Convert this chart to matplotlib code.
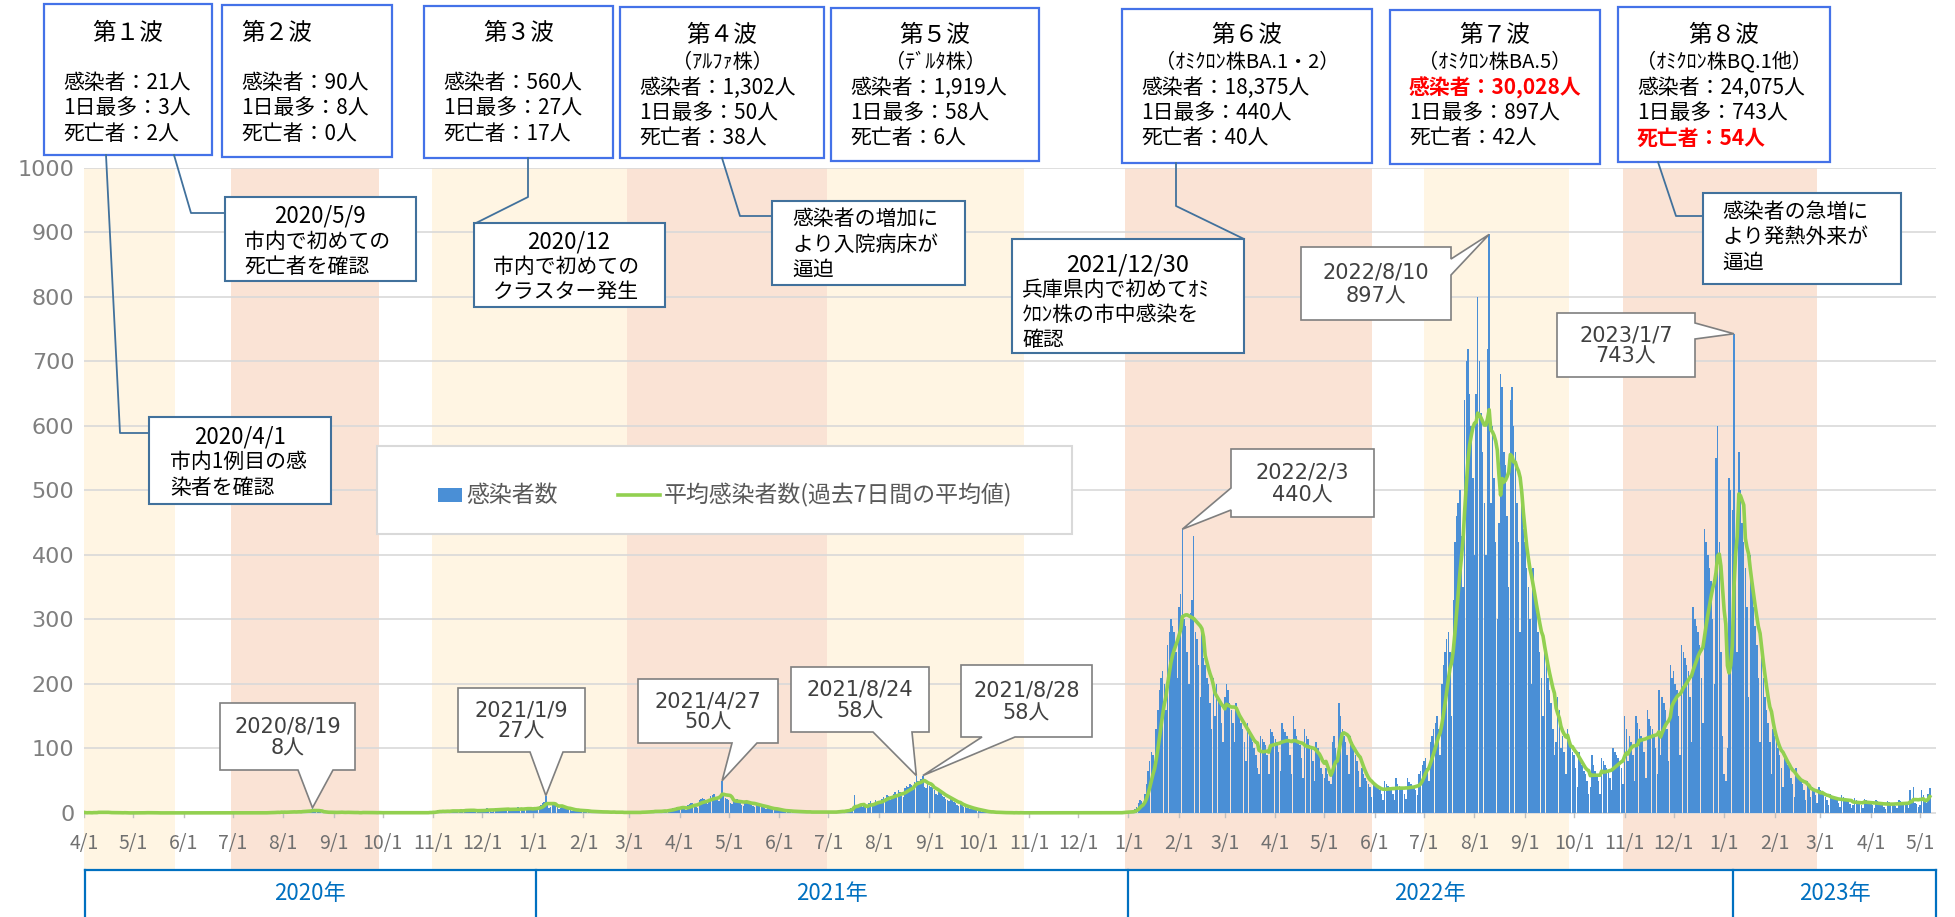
import matplotlib
matplotlib.use("Agg")
import matplotlib.pyplot as plt
import matplotlib.dates as mdates
from matplotlib.patches import Rectangle, Polygon
from matplotlib.lines import Line2D
import pandas as pd

plt.rcParams['font.family'] = ['Noto Sans CJK JP', 'DejaVu Sans']

# daily new cases, one list per month
apr20 = [1,0,0,1,0,0,2,1,0,3, 1,0,0,2,1,0,1,0,0,1, 0,1,0,0,0,1,0,0,0,0]
may20 = [0,0,1,0,0,1,0,0,1,1, 0,0,0,0,0,1,0,0,0,0, 0,0,0,0,0,0,0,0,0,0,0]
jun20 = [0,0,0,0,0,0,0,0,0,0, 0,0,0,0,0,0,0,0,0,0, 0,0,0,0,0,0,0,0,0,0]
jul20 = [0,0,0,0,0,0,0,0,0,0, 0,0,0,0,1,0,0,1,0,0, 0,1,1,0,2,0,1,1,2,0,3]
aug20 = [1,1,0,2,3,1,3,2,0,1, 3,2,4,4,2,1,3,5,8,4, 3,2,1,1,2,1,2,1,0,1,1]
sep20 = [1,0,2,1,1,2,0,0,1,2, 1,0,1,0,0,1,0,1,2,1, 0,0,1,0,1,1,0,0,1,0]
oct20 = [0,1,0,0,1,0,1,0,0,1, 0,0,1,0,0,1,0,1,0,0, 1,0,0,1,0,1,0,0,1,2,1]
nov20 = [2,1,3,4,3,2,3,1,2,4, 3,5,4,3,2,1,4,5,4,5, 6,3,2,4,5,4,3,4,3,2]
dec20 = [5,6,4,7,5,3,2,6,7,5, 8,6,4,3,7,8,6,5,7,4, 3,6,9,7,8,5,6,4,8,9,7]
jan21 = [5,8,6,7,11,13,15,17,27,12, 7,10,15,14,13,10,6,8,10,9, 7,6,6,4,3,5,5,4,5,3,3]
feb21 = [3,4,2,3,2,1,2,1,3,2, 2,1,1,2,1,2,1,1,2,1, 0,1,1,2,1,0,1,1]
mar21 = [1,0,1,2,1,0,1,1,2,1, 3,2,1,2,2,3,4,3,2,1, 3,4,5,3,6,5,4,7,8,10,9]
apr21 = [8,10,7,6,5,12,14,15,16,14, 10,8,20,22,24,21,18,14,17,26, 28,30,24,22,19,30,50,28,24,22]
may21 = [20,16,14,18,17,22,20,18,13,11, 18,20,17,15,13,11,9,13,15,12, 10,9,7,6,8,9,7,6,5,5,4]
jun21 = [4,5,3,3,2,4,3,2,3,2, 2,1,2,3,2,1,2,1,1,2, 1,2,1,1,2,1,1,2,1,1]
jul21 = [1,2,1,2,1,2,3,2,4,3, 2,5,4,6,8,10,28,9,7,12, 14,10,12,9,8,15,18,16,14,20,17]
aug21 = [14,18,22,25,24,28,26,20,22,30, 32,28,35,33,27,25,38,42,40,45, 44,36,48,58,50,46,52,58,40,38,45]
sep21 = [42,40,38,35,30,28,33,31,27,25, 22,20,18,24,20,17,15,13,11,14, 12,10,9,8,7,6,8,6,5,4]
oct21 = [4,3,2,3,2,1,2,1,1,2, 1,0,1,1,0,1,0,1,0,0, 1,0,0,1,0,0,1,0,0,0,1]
nov21 = [0,0,1,0,0,0,0,1,0,0, 0,0,0,1,0,0,0,0,0,1, 0,0,0,0,0,0,1,0,0,0]
dec21 = [0,0,0,1,0,0,0,0,1,0, 0,0,0,0,0,1,0,0,0,0, 1,0,0,1,0,1,0,1,2,1,3]
jan22 = [1,1,2,3,6,10,15,20,18,15, 30,45,65,80,95,90,75,130,160,190,
         210,220,200,160,260,280,300,290,280,250,210]
feb22 = [320,340,440,300,290,250,200,310,330,430, 280,270,230,180,280,240,230,210,200,170,
         130,210,150,200,180,170,140,110]
mar22 = [180,200,190,170,160,140,110,170,160,150, 140,130,110,80,140,130,120,110,100,90,
         70,60,120,115,110,105,90,60,130,125,120]
apr22 = [115,110,95,65,140,130,125,120,110,90, 60,150,130,120,110,105,85,55,130,120,
         115,105,100,80,50,110,100,95,70,60]
may22 = [55,70,60,50,45,110,120,100,80,170, 150,130,120,110,90,60,120,110,100,90,
         80,65,40,70,60,55,50,45,40,25,50]
jun22 = [45,40,38,35,30,20,50,45,42,40, 38,30,20,55,45,42,40,38,30,22,
         55,48,45,42,40,35,28,60,65,75]
jul22 = [80,85,70,50,110,120,130,140,150,130, 90,200,230,250,270,280,250,150,330,420,
         460,480,500,430,350,640,700,720,650,600,520]
aug22 = [400,650,800,700,620,560,480, 400,720,897,480,600,520,420, 300,450,680,660,560,540,460,
         350,640,660,600,560,480,420, 280,480,440]
sep22 = [420,380,350,300,200,380,340,310,280,250, 210,150,270,240,210,190,170,130,90,110,
         180,160,100,120,95,60,130,115,105,95]
oct22 = [90,70,40,95,85,75,65,60,50,30, 40,90,75,65,60,50,30,85,80,75,
         70,65,55,35,100,95,90,85,80,70,45]
nov22 = [150,130,80,120,110,90,50,150,140,130, 120,115,95,55,160,145,135,130,120,100,
         60,190,90,180,170,160,130,80,230,210]
dec22 = [220,200,190,150,90,260,250,240,230,220, 180,110,320,300,290,280,260,210,140,440,
         420,400,380,360,300,200,550,600,420,250,120]
jan23 = [60,50,100,520,500,470,743,420,250,560, 500,450,420,380,320,180,400,360,320,290,
         260,210,110,240,210,180,160,140,110,60,130]
feb23 = [120,110,100,90,70,40,95,85,75,70, 55,45,25,70,60,55,50,45,35,20,
         50,45,25,40,35,28,15,40]
mar23 = [35,30,28,25,20,12,30,27,25,22, 20,16,10,28,25,22,20,18,14,8,
         12,24,20,18,16,13,8,22,20,18,16]
apr23 = [15,12,7,20,18,16,15,13,10,6, 19,17,16,15,14,11,7,20,18,17,
         16,15,12,8,35,20,40,16,14,10]
may23 = [12,35,28,20,15,30,38]

months = [("2020-04", apr20), ("2020-05", may20), ("2020-06", jun20), ("2020-07", jul20),
          ("2020-08", aug20), ("2020-09", sep20), ("2020-10", oct20), ("2020-11", nov20),
          ("2020-12", dec20), ("2021-01", jan21), ("2021-02", feb21), ("2021-03", mar21),
          ("2021-04", apr21), ("2021-05", may21), ("2021-06", jun21), ("2021-07", jul21),
          ("2021-08", aug21), ("2021-09", sep21), ("2021-10", oct21), ("2021-11", nov21),
          ("2021-12", dec21), ("2022-01", jan22), ("2022-02", feb22), ("2022-03", mar22),
          ("2022-04", apr22), ("2022-05", may22), ("2022-06", jun22), ("2022-07", jul22),
          ("2022-08", aug22), ("2022-09", sep22), ("2022-10", oct22), ("2022-11", nov22),
          ("2022-12", dec22), ("2023-01", jan23), ("2023-02", feb23), ("2023-03", mar23),
          ("2023-04", apr23), ("2023-05", may23)]

# wave periods shown as background bands
band_start = ["2020-03-31", "2020-06-30", "2020-10-31", "2021-02-28",
              "2021-06-30", "2021-12-30", "2022-07-01", "2022-10-31"]
band_end = ["2020-05-27", "2020-09-29", "2021-02-28", "2021-06-30",
            "2021-10-29", "2022-05-30", "2022-09-28", "2023-02-27"]
band_kind = ["y", "p", "y", "p", "y", "p", "y", "p"]

# wave summary boxes
wave_title = ["第１波", "第２波", "第３波", "第４波", "第５波", "第６波", "第７波", "第８波"]
wave_strain = ["", "", "", "（ｱﾙﾌｧ株）", "（ﾃﾞﾙﾀ株）", "（ｵﾐｸﾛﾝ株BA.1・2）",
               "（ｵﾐｸﾛﾝ株BA.5）", "（ｵﾐｸﾛﾝ株BQ.1他）"]
wave_cases = ["21", "90", "560", "1,302", "1,919", "18,375", "30,028", "24,075"]
wave_max = ["3", "8", "27", "50", "58", "440", "897", "743"]
wave_deaths = ["2", "0", "17", "38", "6", "40", "42", "54"]

# peak labels
peak_date = ["2020-08-19", "2021-01-09", "2021-04-27", "2021-08-24",
             "2021-08-28", "2022-02-03", "2022-08-10", "2023-01-07"]
peak_value = [8, 27, 50, 58, 58, 440, 897, 743]

years = ["2020年", "2021年", "2022年", "2023年"]

# ---------------------------------------------------------------
dates, counts = [], []
for ym, vals in months:
    dates.extend(pd.date_range(ym + "-01", periods=len(vals), freq="D"))
    counts.extend(vals)
daily = pd.Series(counts, index=pd.DatetimeIndex(dates))
avg7 = daily.rolling(7, min_periods=1).mean()

W, H = 1955, 917
BLUE_BOX = "#4472E8"
NOTE_EDGE = "#41719C"
BAR = "#4A8FD6"
fig = plt.figure(figsize=(W / 100, H / 100), dpi=100)
fig.patch.set_facecolor("white")
ax = fig.add_axes([84 / W, 47 / H, 1852 / W, 702 / H])

x0 = mdates.date2num(pd.Timestamp("2020-04-01"))
ax.set_xlim(x0, x0 + 1852 / 1.632)
ax.set_ylim(-88.4, 1000)

colors = {"y": "#FFF5E3", "p": "#FAE3D5"}
for s, e, k in zip(band_start, band_end, band_kind):
    ax.axvspan(pd.Timestamp(s), pd.Timestamp(e), color=colors[k], lw=0, zorder=0)

ax.set_yticks(range(0, 1001, 100))
ax.yaxis.grid(True, color="#D9D9D9", lw=1.2, zorder=0.5)
ax.set_axisbelow(True)
ax.tick_params(axis="y", length=0, pad=7, labelsize=16, labelcolor="#7F7F7F")
for lab in ax.get_yticklabels():
    lab.set_family("DejaVu Sans")
ax.set_xticks([])
for sp in ax.spines.values():
    sp.set_visible(False)

ax.bar(daily.index, daily.values, width=0.9, color=BAR, lw=0, zorder=2)
ax.plot(avg7.index, avg7.values, color="#92D050", lw=2.6, zorder=3)

# month labels
for m in pd.date_range("2020-04-01", "2023-05-01", freq="MS"):
    ax.text(m, -48, f"{m.month}/1", ha="center", va="center", fontsize=14, color="#707070")
    ax.plot([m, m], [0, -7], color="#BFBFBF", lw=1, zorder=1)


def fx(x):
    return x / W


def fy(y):
    return 1 - y / H


def rect(x_a, y_a, x_b, y_b, edge, lw, face="white"):
    fig.add_artist(Rectangle((fx(x_a), fy(y_b)), (x_b - x_a) / W, (y_b - y_a) / H,
                             transform=fig.transFigure, facecolor=face,
                             edgecolor=edge, lw=lw))


def line(xs, ys, color=NOTE_EDGE, lw=1.3):
    fig.add_artist(Line2D([fx(v) for v in xs], [fy(v) for v in ys],
                          transform=fig.transFigure, color=color, lw=lw))


def txt(x, y, s, ha="left", size=15, color="black", weight="normal", family=None):
    kw = {}
    if family:
        kw["family"] = family
    fig.text(fx(x), fy(y), s, ha=ha, va="center", fontsize=size, color=color,
             fontweight=weight, **kw)


# year row
line([85, 1936], [870, 870], color="#0070C0", lw=1.6)
for xv in [85, 536, 1128, 1733, 1936]:
    line([xv, xv], [870, 917], color="#0070C0", lw=1.6)
for xc, yl in zip([310, 832, 1430, 1835], years):
    txt(xc, 894, yl, ha="center", size=16, color="#0070C0")

# wave boxes
wave_box = [(44, 4, 212, 155), (222, 5, 392, 157), (424, 6, 613, 158), (620, 7, 824, 158),
            (831, 8, 1039, 161), (1122, 9, 1372, 163), (1390, 10, 1600, 164),
            (1618, 7, 1830, 162)]
for i, (a, b, c, d) in enumerate(wave_box):
    rect(a, b, c, d, BLUE_BOX, 1.6)
    left = a + 19
    if wave_strain[i]:
        txt((a + c) / 2, 36, wave_title[i], ha="center", size=17)
        txt((a + c) / 2, 62, wave_strain[i], ha="center", size=14.5)
        ys = [88, 113, 138]
    else:
        if i == 1:
            txt(left, 34, wave_title[i], size=17)
        else:
            txt((a + c) / 2, 34, wave_title[i], ha="center", size=17)
        ys = [83, 108, 134]
    red1 = i == 6
    red3 = i == 7
    txt(left, ys[0], f"感染者：{wave_cases[i]}人", color="red" if red1 else "black",
        weight="bold" if red1 else "normal")
    txt(left, ys[1], f"1日最多：{wave_max[i]}人")
    txt(left, ys[2], f"死亡者：{wave_deaths[i]}人", color="red" if red3 else "black",
        weight="bold" if red3 else "normal")

# notes with connectors
line([106, 120, 149], [155, 433, 433])
rect(149, 417, 331, 504, NOTE_EDGE, 1.5)
txt(240, 437, "2020/4/1", ha="center", size=16)
txt(170, 462, "市内1例目の感")
txt(170, 488, "染者を確認")

line([174, 191, 225], [155, 213, 213])
rect(225, 197, 416, 281, NOTE_EDGE, 1.5)
txt(320, 216, "2020/5/9", ha="center", size=16)
txt(244, 242, "市内で初めての")
txt(244, 267, "死亡者を確認")

line([528, 528, 476], [158, 197, 223])
rect(474, 223, 665, 307, NOTE_EDGE, 1.5)
txt(569, 242, "2020/12", ha="center", size=16)
txt(493, 267, "市内で初めての")
txt(493, 292, "クラスター発生")

line([722, 740, 772], [158, 216, 216])
rect(772, 201, 965, 285, NOTE_EDGE, 1.5)
txt(792, 219, "感染者の増加に")
txt(792, 245, "より入院病床が")
txt(792, 270, "逼迫")

line([1176, 1176, 1244], [163, 206, 239])
rect(1012, 239, 1244, 353, NOTE_EDGE, 1.5)
txt(1128, 265, "2021/12/30", ha="center", size=17)
txt(1022, 290, "兵庫県内で初めてｵﾐ")
txt(1022, 315, "ｸﾛﾝ株の市中感染を")
txt(1022, 340, "確認")

line([1658, 1676, 1703], [162, 216, 216])
rect(1703, 193, 1901, 284, NOTE_EDGE, 1.5)
txt(1722, 212, "感染者の急増に")
txt(1722, 237, "より発熱外来が")
txt(1722, 263, "逼迫")

# legend
rect(377, 446, 1072, 534, "#D9D9D9", 1.5)
rect(438, 488, 462, 502, "none", 0, face=BAR)
txt(466, 495, "感染者数", size=16.5, color="#595959")
line([618, 660], [495, 495], color="#92D050", lw=2.6)
txt(664, 495, "平均感染者数(過去7日間の平均値)", size=16.5, color="#595959")

# peak speech bubbles
bubble_box = [(220, 703, 355, 770), (458, 688, 585, 752), (638, 679, 778, 743),
              (791, 667, 929, 732), (961, 665, 1092, 737), (1231, 449, 1374, 517),
              (1301, 247, 1451, 320), (1557, 313, 1695, 377)]
bubble_side = ["b", "b", "b", "b", "b", "l", "r", "r"]
bubble_base = [(298, 333), (530, 563), (732, 757), (873, 912), (982, 1015),
               (488, 510), (259, 275), (323, 339)]
for i, (a, b, c, d) in enumerate(bubble_box):
    px, py = ax.transData.transform((mdates.date2num(pd.Timestamp(peak_date[i])),
                                     peak_value[i]))
    tip = (px, H - py)
    b1, b2 = bubble_base[i]
    if bubble_side[i] == "b":
        pts = [(a, b), (c, b), (c, d), (b2, d), tip, (b1, d), (a, d)]
    elif bubble_side[i] == "l":
        pts = [(a, b), (c, b), (c, d), (a, d), (a, b2), tip, (a, b1)]
    else:
        pts = [(a, b), (c, b), (c, b1), tip, (c, b2), (c, d), (a, d)]
    fig.add_artist(Polygon([(fx(u), fy(v)) for u, v in pts], closed=True,
                           transform=fig.transFigure, facecolor="white",
                           edgecolor="#7F7F7F", lw=1.2))
    dt = pd.Timestamp(peak_date[i])
    h = d - b
    fam = ["DejaVu Sans", "Noto Sans CJK JP"]
    txt((a + c) / 2, b + 0.35 * h, f"{dt.year}/{dt.month}/{dt.day}", ha="center",
        size=15, color="#404040", family=fam)
    txt((a + c) / 2, b + 0.68 * h, f"{peak_value[i]}人", ha="center",
        size=15, color="#404040", family=fam)

fig.savefig("out.png", dpi=100, facecolor="white")
